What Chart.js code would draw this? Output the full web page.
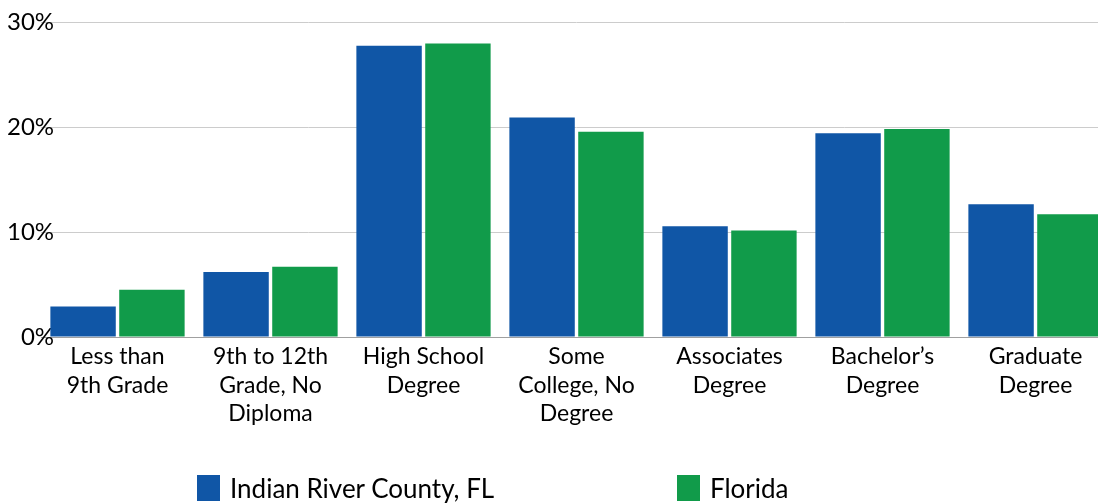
<!DOCTYPE html>
<html>
<head>
<meta charset="utf-8">
<script src="https://cdn.jsdelivr.net/npm/chart.js@4"></script>
<style>
  html, body { margin: 0; padding: 0; background: #fff; overflow: hidden; width: 1098px; height: 504px; }
  #wrap { position: absolute; left: 0; top: 0; width: 1112px; height: 504px; }
  #legend { position: absolute; top: 475px; left: 0; width: 1098px; height: 29px; font-family: Lato, "Noto Sans", sans-serif; font-size: 26px; color: #000; }
  .item { position: absolute; top: 0; display: flex; align-items: center; height: 26px; }
  .box { width: 23px; height: 26px; margin-right: 10px; }
</style>
</head>
<body>
<div id="wrap"><canvas id="c" width="1112" height="504"></canvas></div>
<div id="legend"></div>
<script>
const categories = [
  ["Less than", "9th Grade"],
  ["9th to 12th", "Grade, No", "Diploma"],
  ["High School", "Degree"],
  ["Some", "College, No", "Degree"],
  ["Associates", "Degree"],
  ["Bachelor’s", "Degree"],
  ["Graduate", "Degree"]
];
const seriesNames = ["Indian River County, FL", "Florida"];
const indianRiver = [2.9, 6.2, 27.75, 20.9, 10.55, 19.4, 12.65];
const florida = [4.5, 6.7, 27.95, 19.55, 10.15, 19.8, 11.7];
const yTicks = [0, 10, 20, 30];
const colors = ["#1056A6", "#119B4A"];

const legendEl = document.getElementById('legend');
const legendX = [197, 677];
seriesNames.forEach((n, i) => {
  const d = document.createElement('div');
  d.className = 'item';
  d.style.left = legendX[i] + 'px';
  d.innerHTML = '<div class="box" style="background:' + colors[i] + '"></div><span>' + n + '</span>';
  legendEl.appendChild(d);
});

new Chart(document.getElementById('c'), {
  type: 'bar',
  data: {
    labels: categories,
    datasets: [
      { label: seriesNames[0], data: indianRiver, backgroundColor: colors[0] },
      { label: seriesNames[1], data: florida, backgroundColor: colors[1] }
    ]
  },
  options: {
    responsive: false,
    animation: false,
    events: [],
    layout: { padding: { top: 22, left: 0, right: 0, bottom: 0 } },
    plugins: { legend: { display: false }, tooltip: { enabled: false } },
    datasets: { bar: { categoryPercentage: 0.9, barPercentage: 0.95 } },
    scales: {
      x: {
        grid: { display: false, drawTicks: false },
        border: { display: true, color: '#a0a0a0', width: 1 },
        ticks: {
          font: { family: 'Lato, "Noto Sans", sans-serif', size: 23, lineHeight: 1.22 },
          color: '#000',
          padding: 6,
          maxRotation: 0,
          autoSkip: false
        },
        afterFit: s => { s.height = 167; }
      },
      y: {
        min: 0, max: 30,
        afterBuildTicks: s => { s.ticks = yTicks.map(v => ({ value: v })); },
        grid: { color: '#cccccc', lineWidth: 1, drawTicks: false },
        border: { display: false },
        ticks: {
          font: { family: 'Lato, "Noto Sans", sans-serif', size: 24 },
          color: '#000',
          mirror: true,
          crossAlign: 'far',
          padding: -34,
          callback: v => v + '%'
        },
        afterFit: s => { s.width = 41; }
      }
    }
  }
});
</script>
</body>
</html>
